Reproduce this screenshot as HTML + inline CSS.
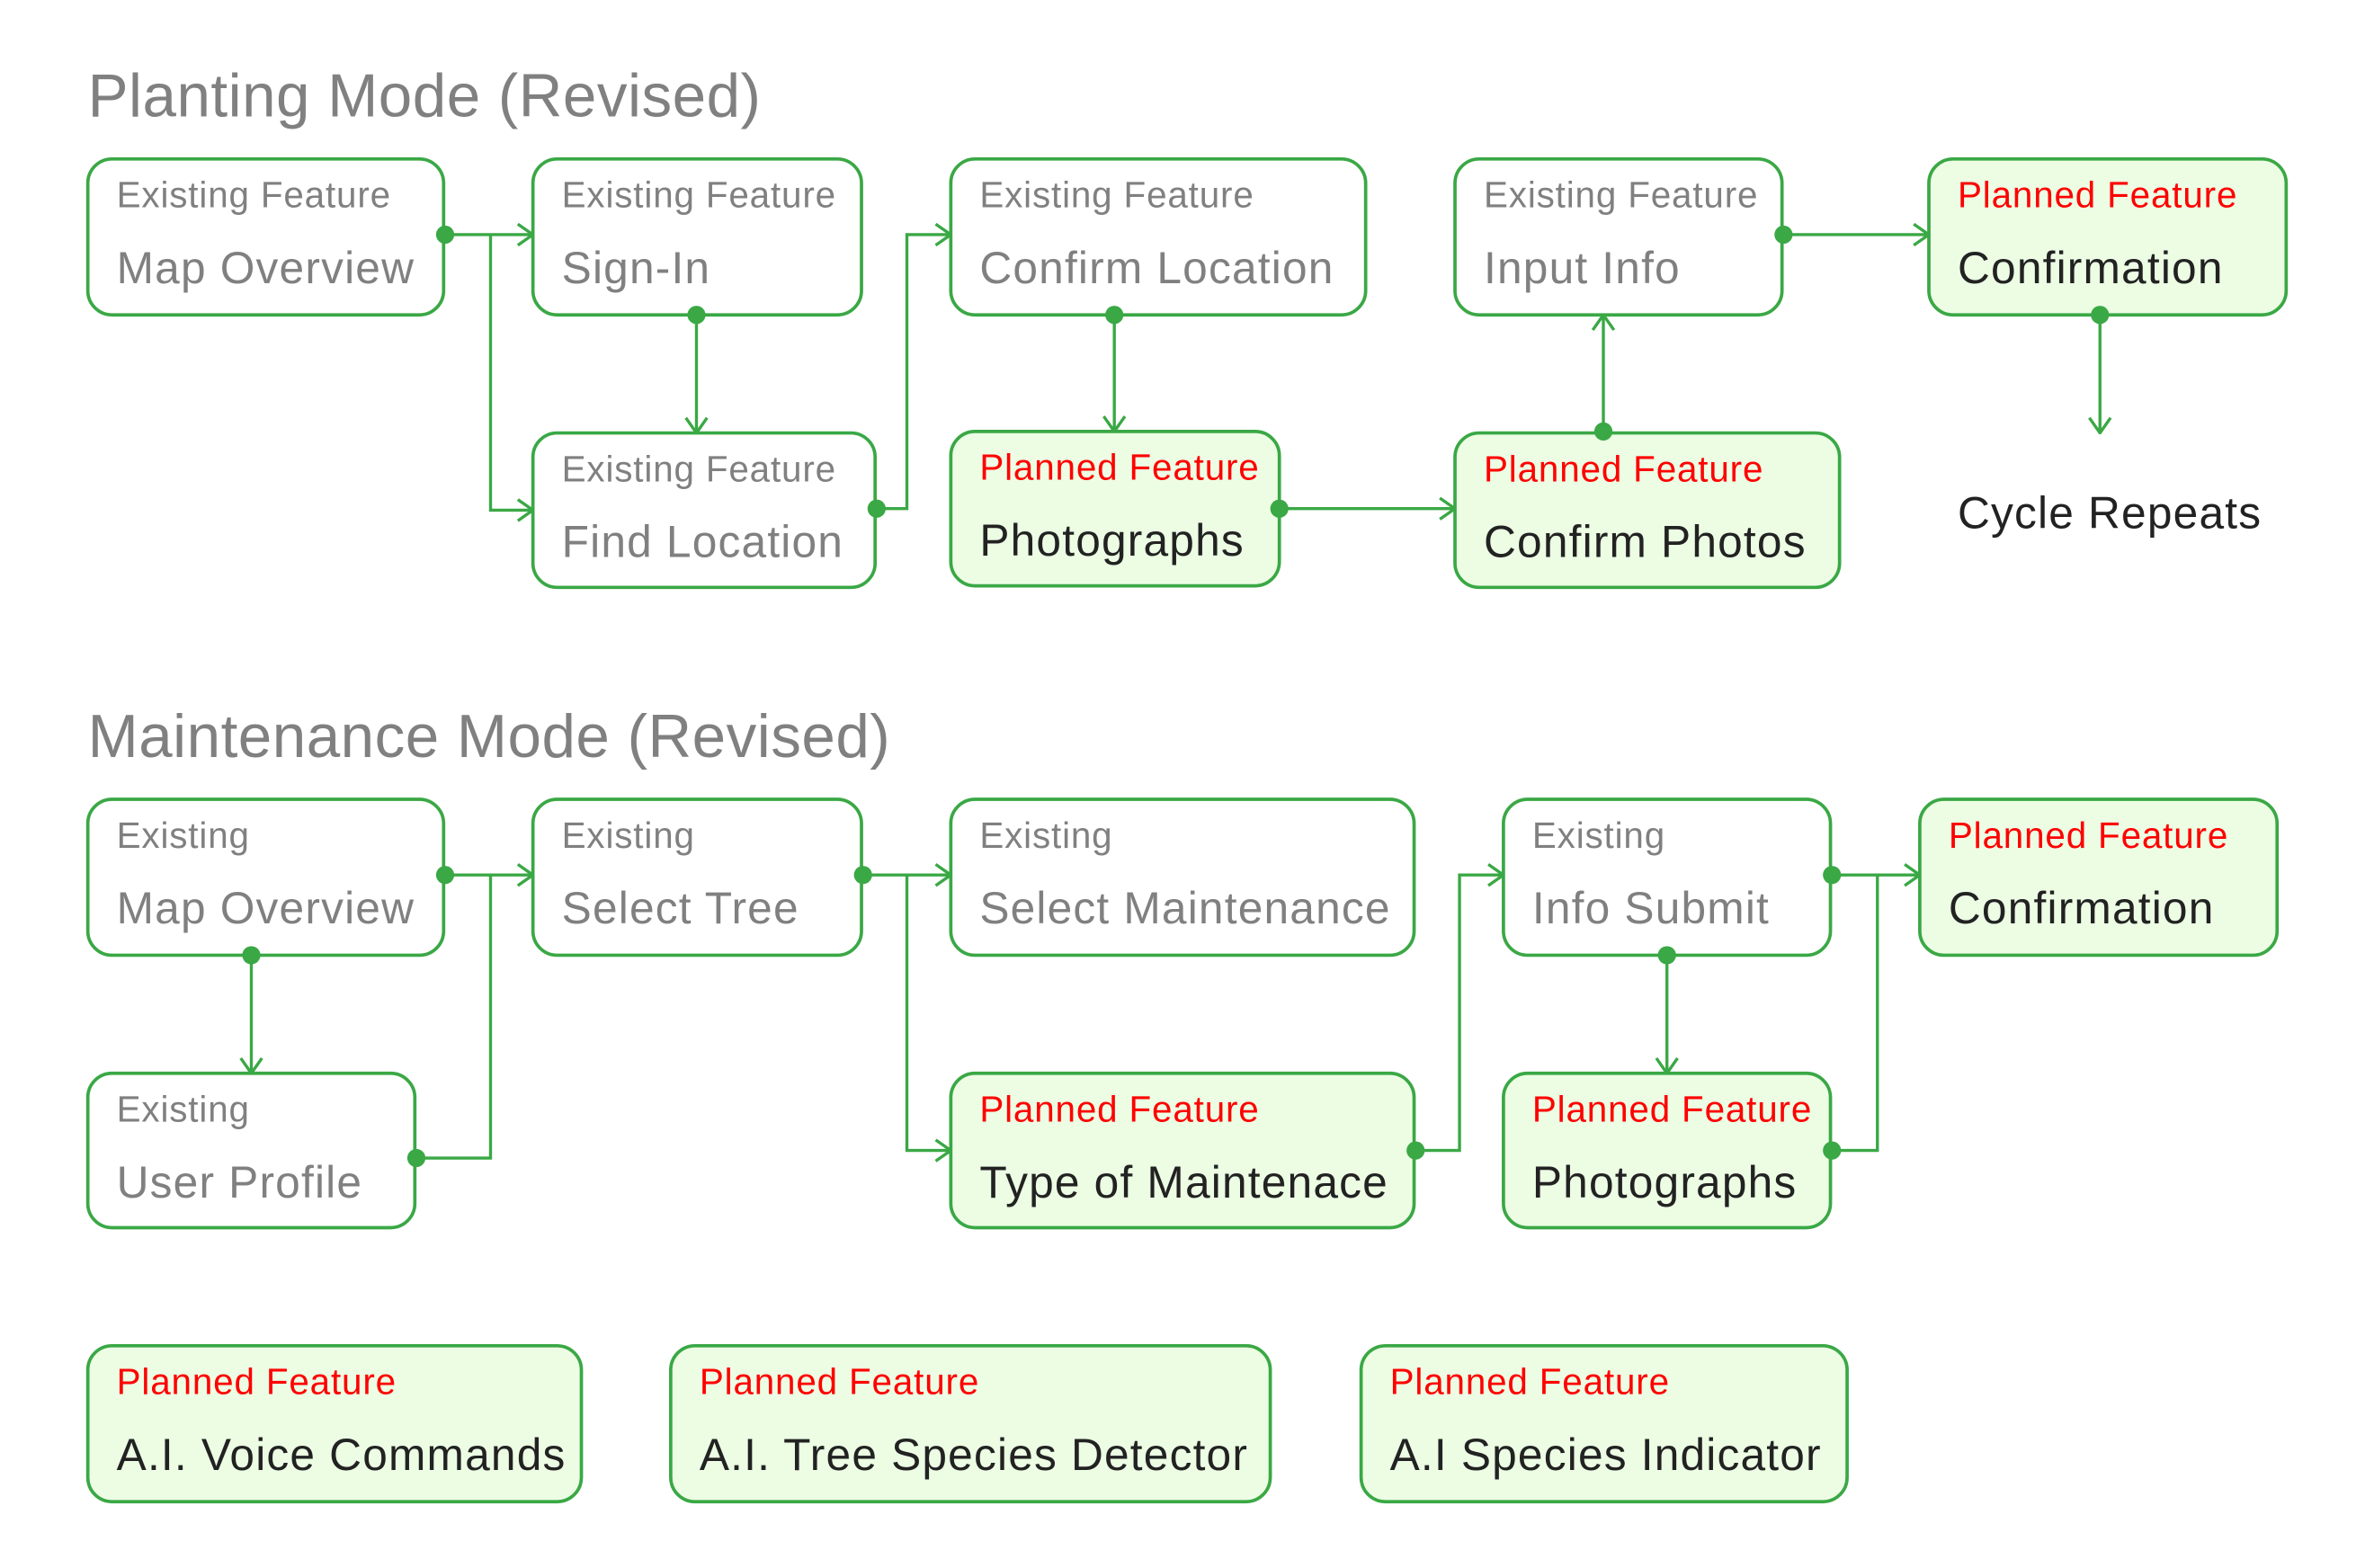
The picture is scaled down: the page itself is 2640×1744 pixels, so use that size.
<!DOCTYPE html>
<html><head><meta charset="utf-8"><style>
html,body{margin:0;padding:0;background:#fff;}
svg{display:block;}
text{font-family:"Liberation Sans",sans-serif;}
.t{font-size:40px;fill:#808080;letter-spacing:0.3px;}
.l{font-size:24px;fill:#808080;letter-spacing:0.5px;}
.m{font-size:29.5px;fill:#808080;letter-spacing:0.7px;}
.pl{font-size:24px;fill:#ff0000;letter-spacing:0.5px;}
.pm{font-size:29.5px;fill:#222;letter-spacing:0.7px;}
.e{fill:#fff;stroke:#3aa845;stroke-width:2.2;}
.p{fill:#ecfde4;stroke:#3aa845;stroke-width:2.2;}
.c{fill:none;stroke:#3aa845;stroke-width:2;}
.d{fill:#3aa845;}
</style></head><body>
<svg width="2640" height="1744" viewBox="0 0 1568 1035.8" xmlns="http://www.w3.org/2000/svg">
<defs>
<marker id="a" viewBox="0 0 12 16" refX="11" refY="8" markerWidth="12" markerHeight="16" markerUnits="userSpaceOnUse" orient="auto">
<path d="M1 1 L11 8 L1 15" fill="none" stroke="#3aa845" stroke-width="2"/>
</marker>
</defs>
<text class="t" x="58" y="77">Planting Mode (Revised)</text>
<text class="t" x="58" y="500">Maintenance Mode (Revised)</text>

<rect class="e" x="58" y="105" width="235" height="103" rx="16"/>
<text class="l" x="77" y="137">Existing Feature</text><text class="m" x="77" y="187">Map Overview</text>
<rect class="e" x="352" y="105" width="217" height="103" rx="16"/>
<text class="l" x="371" y="137">Existing Feature</text><text class="m" x="371" y="187">Sign-In</text>
<rect class="e" x="628" y="105" width="274" height="103" rx="16"/>
<text class="l" x="647" y="137">Existing Feature</text><text class="m" x="647" y="187">Confirm Location</text>
<rect class="e" x="961" y="105" width="216" height="103" rx="16"/>
<text class="l" x="980" y="137">Existing Feature</text><text class="m" x="980" y="187">Input Info</text>
<rect class="p" x="1274" y="105" width="236" height="103" rx="16"/>
<text class="pl" x="1293" y="137">Planned Feature</text><text class="pm" x="1293" y="187">Confirmation</text>
<rect class="e" x="352" y="286" width="226" height="102" rx="16"/>
<text class="l" x="371" y="318">Existing Feature</text><text class="m" x="371" y="368">Find Location</text>
<rect class="p" x="628" y="285" width="217" height="102" rx="16"/>
<text class="pl" x="647" y="317">Planned Feature</text><text class="pm" x="647" y="367">Photographs</text>
<rect class="p" x="961" y="286" width="254" height="102" rx="16"/>
<text class="pl" x="980" y="318">Planned Feature</text><text class="pm" x="980" y="368">Confirm Photos</text>
<text class="pm" x="1293" y="349">Cycle Repeats</text>

<path class="c" d="M294 155 H352" marker-end="url(#a)"/>
<path class="c" d="M324 155 V337 H352" marker-end="url(#a)"/>
<circle class="d" cx="294" cy="155" r="6"/>
<path class="c" d="M460 208 V286" marker-end="url(#a)"/>
<circle class="d" cx="460" cy="208" r="6"/>
<path class="c" d="M579 336 H599 V155 H628" marker-end="url(#a)"/>
<circle class="d" cx="579" cy="336" r="6"/>
<path class="c" d="M736 208 V285" marker-end="url(#a)"/>
<circle class="d" cx="736" cy="208" r="6"/>
<path class="c" d="M845 336 H961" marker-end="url(#a)"/>
<circle class="d" cx="845" cy="336" r="6"/>
<path class="c" d="M1059 285 V208" marker-end="url(#a)"/>
<circle class="d" cx="1059" cy="285" r="6"/>
<path class="c" d="M1178 155 H1274" marker-end="url(#a)"/>
<circle class="d" cx="1178" cy="155" r="6"/>
<path class="c" d="M1387 208 V286" marker-end="url(#a)"/>
<circle class="d" cx="1387" cy="208" r="6"/>

<rect class="e" x="58" y="528" width="235" height="103" rx="16"/>
<text class="l" x="77" y="560">Existing</text><text class="m" x="77" y="610">Map Overview</text>
<rect class="e" x="352" y="528" width="217" height="103" rx="16"/>
<text class="l" x="371" y="560">Existing</text><text class="m" x="371" y="610">Select Tree</text>
<rect class="e" x="628" y="528" width="306" height="103" rx="16"/>
<text class="l" x="647" y="560">Existing</text><text class="m" x="647" y="610">Select Maintenance</text>
<rect class="e" x="993" y="528" width="216" height="103" rx="16"/>
<text class="l" x="1012" y="560">Existing</text><text class="m" x="1012" y="610">Info Submit</text>
<rect class="p" x="1268" y="528" width="236" height="103" rx="16"/>
<text class="pl" x="1287" y="560">Planned Feature</text><text class="pm" x="1287" y="610">Confirmation</text>
<rect class="e" x="58" y="709" width="216" height="102" rx="16"/>
<text class="l" x="77" y="741">Existing</text><text class="m" x="77" y="791">User Profile</text>
<rect class="p" x="628" y="709" width="306" height="102" rx="16"/>
<text class="pl" x="647" y="741">Planned Feature</text><text class="pm" x="647" y="791">Type of Maintenace</text>
<rect class="p" x="993" y="709" width="216" height="102" rx="16"/>
<text class="pl" x="1012" y="741">Planned Feature</text><text class="pm" x="1012" y="791">Photographs</text>

<path class="c" d="M294 578 H352" marker-end="url(#a)"/>
<circle class="d" cx="294" cy="578" r="6"/>
<path class="c" d="M166 631 V709" marker-end="url(#a)"/>
<circle class="d" cx="166" cy="631" r="6"/>
<path class="c" d="M275 765 H324 V578"/>
<circle class="d" cx="275" cy="765" r="6"/>
<path class="c" d="M570 578 H628" marker-end="url(#a)"/>
<path class="c" d="M599 578 V760 H628" marker-end="url(#a)"/>
<circle class="d" cx="570" cy="578" r="6"/>
<path class="c" d="M935 760 H964 V578 H993" marker-end="url(#a)"/>
<circle class="d" cx="935" cy="760" r="6"/>
<path class="c" d="M1210 578 H1268" marker-end="url(#a)"/>
<circle class="d" cx="1210" cy="578" r="6"/>
<path class="c" d="M1210 760 H1240 V578"/>
<circle class="d" cx="1210" cy="760" r="6"/>
<path class="c" d="M1101 631 V709" marker-end="url(#a)"/>
<circle class="d" cx="1101" cy="631" r="6"/>

<rect class="p" x="58" y="889" width="326" height="103" rx="16"/>
<text class="pl" x="77" y="921">Planned Feature</text><text class="pm" x="77" y="971">A.I. Voice Commands</text>
<rect class="p" x="443" y="889" width="396" height="103" rx="16"/>
<text class="pl" x="462" y="921">Planned Feature</text><text class="pm" x="462" y="971">A.I. Tree Species Detector</text>
<rect class="p" x="899" y="889" width="321" height="103" rx="16"/>
<text class="pl" x="918" y="921">Planned Feature</text><text class="pm" x="918" y="971">A.I Species Indicator</text>
</svg>
</body></html>
